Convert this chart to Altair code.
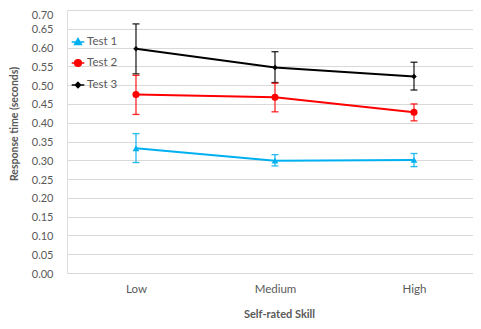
import altair as alt
import pandas as pd

skills = ["Low", "Medium", "High"]
series = ["Test 1", "Test 2", "Test 3"]
colors = ["#00B0F0", "#FF0000", "#000000"]

test1_mean = [0.332, 0.299, 0.301]
test1_lo = [0.294, 0.285, 0.283]
test1_hi = [0.371, 0.315, 0.318]

test2_mean = [0.475, 0.468, 0.428]
test2_lo = [0.422, 0.429, 0.405]
test2_hi = [0.526, 0.505, 0.450]

test3_mean = [0.597, 0.547, 0.523]
test3_lo = [0.530, 0.507, 0.487]
test3_hi = [0.663, 0.589, 0.561]

y_ticks = [0.0, 0.05, 0.10, 0.15, 0.20, 0.25, 0.30, 0.35, 0.40, 0.45, 0.50, 0.55, 0.60, 0.65, 0.70]

rows = []
for name, m, lo, hi in [
    ("Test 1", test1_mean, test1_lo, test1_hi),
    ("Test 2", test2_mean, test2_lo, test2_hi),
    ("Test 3", test3_mean, test3_lo, test3_hi),
]:
    for s, a, b, c in zip(skills, m, lo, hi):
        rows.append({"series": name, "skill": s, "mean": a, "lo": b, "hi": c})
df = pd.DataFrame(rows)

FONT = "Lato"
GREY = "#595959"

x_axis = alt.Axis(
    title="Self-rated Skill",
    labelAngle=0,
    ticks=False,
    tickSize=0,
    domain=False,
    grid=False,
    labelPadding=10,
    labelFontSize=11.5,
    labelColor=GREY,
    labelFont=FONT,
    titleFont=FONT,
    titleFontSize=11,
    titleFontWeight="bold",
    titleColor=GREY,
    titleX=212,
    titleY=41,
    titleBaseline="middle",
)
x_scale = alt.Scale(type="point", domain=skills, padding=0.4604, align=0.539)


def X():
    return alt.X("skill:N", sort=skills, scale=x_scale, axis=x_axis)


y_scale = alt.Scale(domain=[0, 0.7], nice=False, zero=True)
y_axis = alt.Axis(
    title="Response time (seconds)",
    values=y_ticks,
    format=".2f",
    ticks=False,
    tickSize=0,
    domain=False,
    grid=True,
    gridColor="#D9D9D9",
    gridWidth=1,
    labelPadding=14,
    labelFontSize=11,
    labelOffset={"condition": {"test": "datum.value >= 0.69", "value": 5}, "value": 1},
    labelColor=GREY,
    labelFont=FONT,
    titleFont=FONT,
    titleFontSize=10.5,
    titleFontWeight="bold",
    titleColor=GREY,
    titleX=-53,
    titleY=113.5,
    titleBaseline="middle",
    titleAlign="center",
)


def Y(field):
    return alt.Y(field, scale=y_scale, axis=y_axis, title="Response time (seconds)")


color_scale = alt.Scale(domain=series, range=colors)
legend_paths = [
    "M-1.05,0L1.05,0M0,-0.55L0.55,0.4L-0.55,0.4Z",
    "M-1.05,0L1.05,0M0.55,0A0.55,0.55 0 1,1 -0.55,0A0.55,0.55 0 1,1 0.55,0Z",
    "M-1.05,0L1.05,0M0,-0.42L0.42,0L0,0.42L-0.42,0Z",
]

legend = alt.Legend(
    title=None,
    orient="none",
    legendX=4,
    legendY=25,
    symbolSize=144,
    symbolStrokeWidth=1.6,
    symbolOpacity=1,
    labelFont=FONT,
    labelFontSize=11.5,
    labelColor=GREY,
    labelOffset=2,
    rowPadding=8,
)


def C():
    return alt.Color("series:N", scale=color_scale, legend=legend)


base = alt.Chart(df)

legend_layer = base.transform_filter("datum.mean < 0").mark_point(
    filled=False, opacity=1, strokeWidth=1.6, strokeOpacity=1, fillOpacity=1
).encode(
    x=X(),
    y=Y("mean:Q"),
    stroke=alt.Stroke("series:N", scale=color_scale, legend=legend),
    fill=alt.Fill("series:N", scale=color_scale, legend=legend),
    shape=alt.Shape(
        "series:N",
        scale=alt.Scale(domain=series, range=legend_paths),
        legend=legend,
    ),
)

lines = base.mark_line(strokeWidth=2).encode(x=X(), y=Y("mean:Q"), color=C())

err = base.mark_rule(strokeWidth=1.3, opacity=0.85).encode(
    x=X(), y=Y("lo:Q"), y2="hi:Q", color=C()
)
cap_lo = base.mark_tick(size=7, thickness=1.3, opacity=0.85).encode(
    x=X(), y=Y("lo:Q"), color=C()
)
cap_hi = base.mark_tick(size=7, thickness=1.3, opacity=0.85).encode(
    x=X(), y=Y("hi:Q"), color=C()
)

shape_vals = {"Test 1": ("triangle-up", 45), "Test 2": ("circle", 50), "Test 3": ("diamond", 30)}
point_layers = []
for name in series:
    shp, sz = shape_vals[name]
    point_layers.append(
        base.transform_filter(alt.datum.series == name)
        .mark_point(filled=True, opacity=1, shape=shp, size=sz)
        .encode(x=X(), y=Y("mean:Q"), color=C())
    )

chart = (
    alt.layer(legend_layer, lines, err, cap_lo, cap_hi, *point_layers)
    .properties(
        width=406,
        height=263,
        autosize=alt.AutoSizeParams(type="none"),
        padding={"left": 59, "top": 2, "right": 0, "bottom": 50},
    )
    .configure_view(strokeWidth=0, stroke="transparent")
    .configure(background="white")
)

chart.save("out.html", embed_options={"renderer": "svg", "actions": False})
